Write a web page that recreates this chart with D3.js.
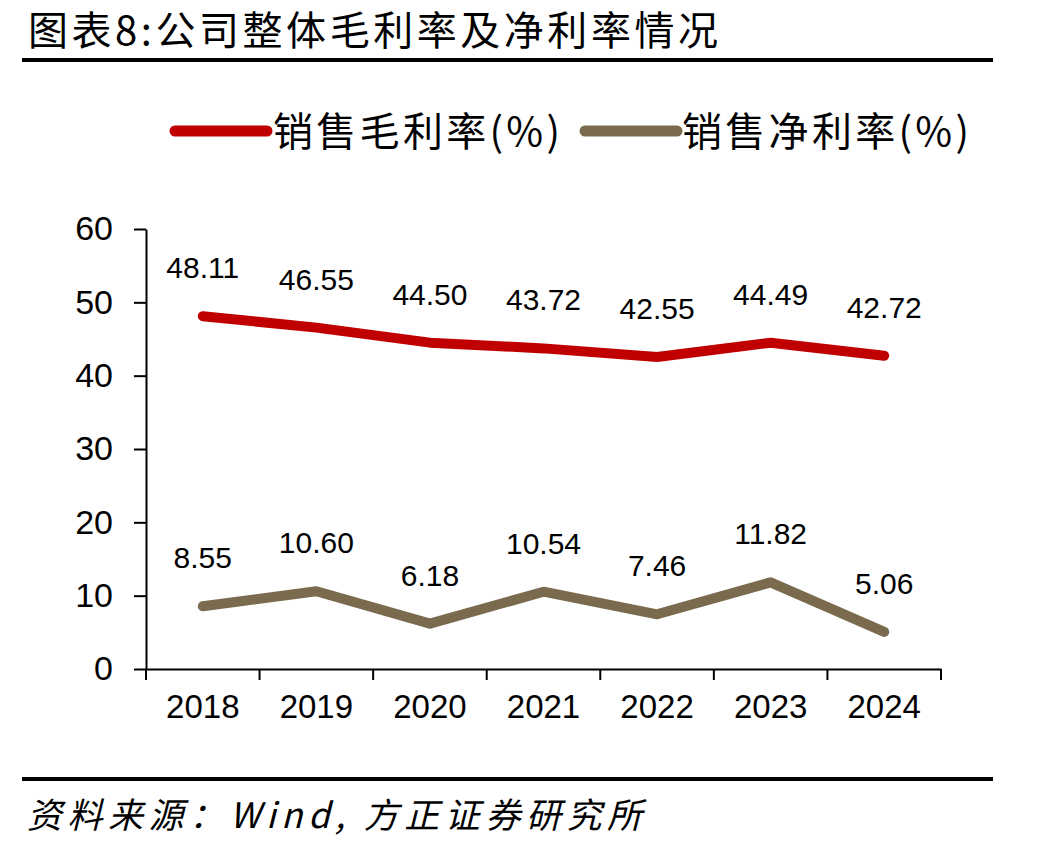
<!DOCTYPE html>
<html>
<head>
<meta charset="utf-8">
<script src="https://cdn.jsdelivr.net/npm/d3@7"></script>
<style>
  body { margin: 0; background: #fff; }
  svg { display: block; }
</style>
</head>
<body>
<div id="viz"></div>
<script>
// chart data
var years = ["2018", "2019", "2020", "2021", "2022", "2023", "2024"];
var grossMargin = [48.11, 46.55, 44.50, 43.72, 42.55, 44.49, 42.72];
var netMargin = [8.55, 10.60, 6.18, 10.54, 7.46, 11.82, 5.06];
var seriesNames = ["销售毛利率(%)", "销售净利率(%)"];
var seriesColors = ["#C00000", "#7A6A4E"];
var yTicks = [0, 10, 20, 30, 40, 50, 60];

var width = 1038, height = 850;
var cjk = "'Noto Sans CJK SC', 'Noto Sans', sans-serif";
var latin = "'Liberation Sans', Arial, sans-serif";

// plot area (window.top is reserved, so use plot* names)
var plotLeft = 146, plotRight = 941, plotTop = 229, plotBottom = 669;

var svg = d3.select("#viz").append("svg").attr("width", width).attr("height", height);

// title + rule
svg.append("text")
    .attr("x", 28).attr("y", 45)
    .attr("font-family", cjk).attr("font-size", 40)
    .attr("textLength", 690).attr("lengthAdjust", "spacing")
    .text("图表8:公司整体毛利率及净利率情况");
svg.append("rect").attr("x", 22).attr("y", 58).attr("width", 971).attr("height", 4).attr("fill", "#000");

// bottom rule + source
svg.append("rect").attr("x", 22).attr("y", 777).attr("width", 971).attr("height", 4).attr("fill", "#000");
svg.append("text")
    .attr("x", 27).attr("y", 828)
    .attr("font-family", cjk).attr("font-size", 35).attr("font-style", "italic")
    .attr("textLength", 615).attr("lengthAdjust", "spacing")
    .text("资料来源：Wind, 方正证券研究所");

// scales
var x = d3.scaleBand().domain(years).range([plotLeft, plotRight]);
var y = d3.scaleLinear().domain([0, 60]).range([plotBottom, plotTop]);

// axes
var yAxis = svg.append("g")
    .attr("transform", "translate(" + plotLeft + ",0)")
    .call(d3.axisLeft(y).tickValues(yTicks).tickSize(12).tickPadding(21).tickSizeOuter(0));
yAxis.selectAll("text").attr("font-family", latin).attr("font-size", 34).attr("fill", "#000");
yAxis.selectAll("line, path").attr("stroke", "#000").attr("stroke-width", 2);

var xAxis = svg.append("g")
    .attr("transform", "translate(0," + plotBottom + ")")
    .call(d3.axisBottom(x).tickSize(0).tickPadding(26).tickSizeOuter(0));
xAxis.selectAll("text").attr("font-family", latin).attr("font-size", 33).attr("fill", "#000");
xAxis.select("path").attr("stroke", "#000").attr("stroke-width", 2);
// ticks between categories
xAxis.selectAll(".sep")
    .data(years.concat(["end"]))
    .enter().append("line")
    .attr("x1", function (d, i) { return plotLeft + i * x.step(); })
    .attr("x2", function (d, i) { return plotLeft + i * x.step(); })
    .attr("y1", 0).attr("y2", 11)
    .attr("stroke", "#000").attr("stroke-width", 2);

// lines
var series = [grossMargin, netMargin];
var line = d3.line()
    .x(function (d, i) { return x(years[i]) + x.bandwidth() / 2; })
    .y(function (d) { return y(d); });

series.forEach(function (vals, s) {
    svg.append("path")
        .datum(vals)
        .attr("d", line)
        .attr("fill", "none")
        .attr("stroke", seriesColors[s])
        .attr("stroke-width", 10)
        .attr("stroke-linecap", "round")
        .attr("stroke-linejoin", "round");

    svg.append("g").selectAll("text")
        .data(vals)
        .enter().append("text")
        .attr("x", function (d, i) { return x(years[i]) + x.bandwidth() / 2; })
        .attr("y", function (d) { return y(d) - 38; })
        .attr("text-anchor", "middle")
        .attr("font-family", latin).attr("font-size", 30)
        .text(function (d) { return d.toFixed(2); });
});

// legend
var legendX = [[175, 267, 273], [585, 677, 682]];
seriesNames.forEach(function (name, s) {
    svg.append("line")
        .attr("x1", legendX[s][0]).attr("x2", legendX[s][1])
        .attr("y1", 131).attr("y2", 131)
        .attr("stroke", seriesColors[s]).attr("stroke-width", 11)
        .attr("stroke-linecap", "round");
    svg.append("text")
        .attr("x", legendX[s][2]).attr("y", 146)
        .attr("font-family", cjk).attr("font-size", 40)
        .attr("textLength", 287).attr("lengthAdjust", "spacing")
        .text(name);
});
</script>
</body>
</html>
